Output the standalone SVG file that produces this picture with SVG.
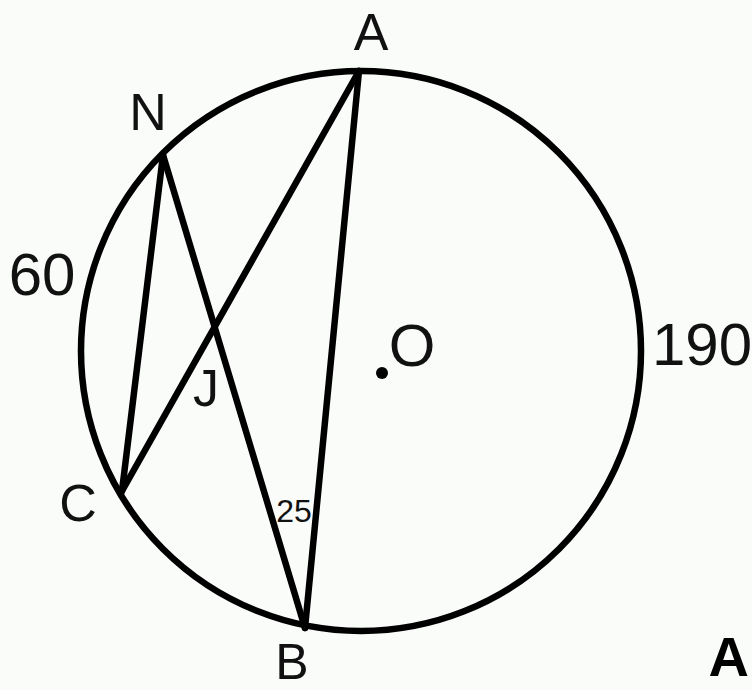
<svg xmlns="http://www.w3.org/2000/svg" width="752" height="690" viewBox="0 0 752 690">
<style>
.ln{stroke:#000;stroke-width:6.5;fill:none;stroke-linecap:round;stroke-linejoin:round}
.lb{font-family:"Liberation Sans",Arial,sans-serif;fill:#111;text-anchor:middle}
</style>
<rect x="0" y="0" width="752" height="690" fill="#f9fcf9"/>
<g id="circle"><circle class="ln" cx="361" cy="351" r="280"/></g>
<g id="connectors">
<line class="ln" x1="359" y1="71" x2="305" y2="628"/>
<line class="ln" x1="359" y1="71" x2="122" y2="491"/>
<line class="ln" x1="163" y1="155" x2="122" y2="491"/>
<line class="ln" x1="163" y1="155" x2="305" y2="628"/>
</g>
<g id="A"><text class="lb" x="371" y="50" font-size="52">A</text></g>
<g id="N"><text class="lb" x="148" y="130" font-size="52">N</text></g>
<g id="C"><text class="lb" x="78" y="521" font-size="52">C</text></g>
<g id="B"><text class="lb" x="292" y="679" font-size="50">B</text></g>
<g id="J"><text class="lb" x="206" y="406" font-size="52">J</text></g>
<g id="O"><circle cx="382" cy="373" r="6" fill="#000"/><text class="lb" x="412" y="366" font-size="60">O</text></g>
<g id="arc60"><text class="lb" x="42" y="295" font-size="60">60</text></g>
<g id="arc190"><text class="lb" x="702" y="365" font-size="60">190</text></g>
<g id="angle25"><text class="lb" x="294" y="522" font-size="32">25</text></g>
<g id="cornerA"><text x="749" y="676" font-size="56" font-weight="bold" font-family="Liberation Sans,Arial,sans-serif" text-anchor="end" fill="#000">A</text></g>
</svg>
